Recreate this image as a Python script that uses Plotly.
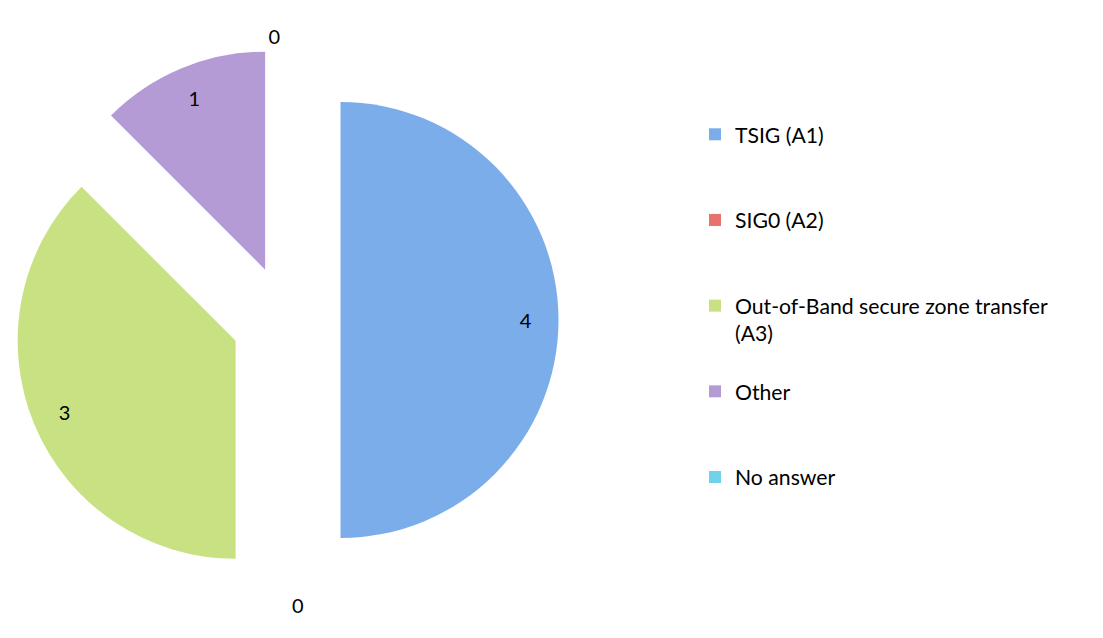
import plotly.graph_objects as go

categories = ["TSIG (A1)", "SIG0 (A2)", "Out-of-Band secure zone transfer<br>(A3)", "Other", "No answer"]
values = [4, 0, 3, 1, 0]
colors = ["#7badea", "#e8726e", "#c8e283", "#b49bd6", "#72d2ec"]

legend_labels = [c + "<br> " if "<br>" in c else c + "<br> <br> " for c in categories]
textpos = ["inside" if v > 0 else "outside" for v in values]

domain = dict(x=[5.5 / 1103, 550.5 / 1103], y=[1 - 584.5 / 638, 1 - 39.5 / 638])
pull = [0.25] * len(values)

fig = go.Figure()
# visible slices
fig.add_trace(go.Pie(
    labels=legend_labels,
    values=values,
    sort=False,
    direction="clockwise",
    rotation=0,
    pull=pull,
    marker=dict(colors=colors, line=dict(width=0)),
    textinfo="none",
    domain=domain,
    showlegend=True,
    hoverinfo="label+value",
))
# transparent ring carrying the value labels near the outer edge
fig.add_trace(go.Pie(
    labels=legend_labels,
    values=values,
    sort=False,
    direction="clockwise",
    rotation=0,
    pull=pull,
    hole=0.7,
    marker=dict(colors=["rgba(0,0,0,0)"] * len(values), line=dict(width=0)),
    textinfo="value",
    textposition=textpos,
    insidetextorientation="horizontal",
    textfont=dict(family="Lato", size=20, color="#000000"),
    domain=domain,
    showlegend=False,
    hoverinfo="skip",
))

fig.update_layout(
    width=1103,
    height=638,
    margin=dict(l=0, r=0, t=0, b=0, autoexpand=False),
    paper_bgcolor="white",
    plot_bgcolor="white",
    font=dict(family="Lato", color="#000000"),
    legend=dict(
        x=687 / 1103, y=1 - 106 / 638, xanchor="left", yanchor="top",
        font=dict(family="Lato", size=21.2, color="#000000"),
        valign="top",
        itemclick=False,
    ),
)

fig.write_html("out.html")
